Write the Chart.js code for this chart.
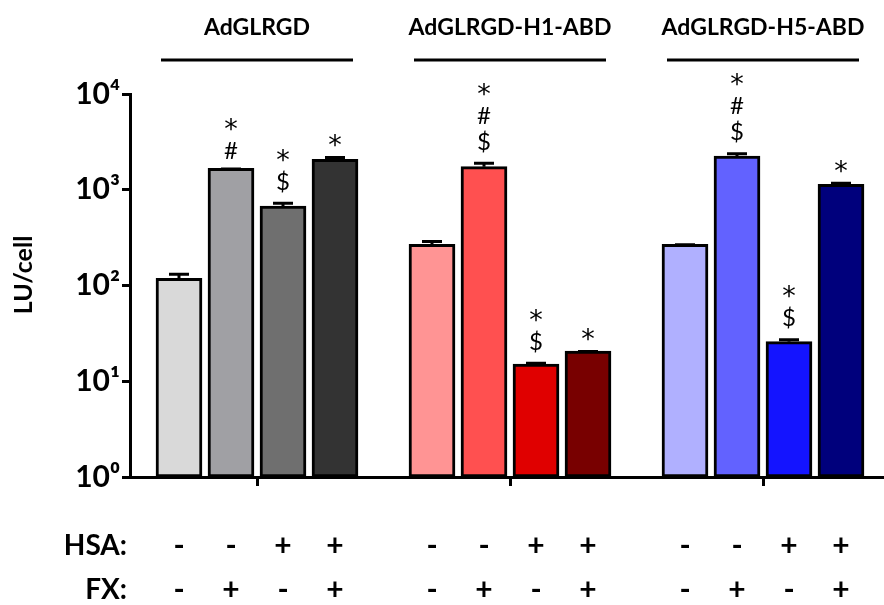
<!DOCTYPE html>
<html><head><meta charset="utf-8">
<script src="https://cdn.jsdelivr.net/npm/chart.js@4/dist/chart.umd.min.js"></script>
<style>html,body{margin:0;padding:0;background:#fff}canvas{display:block}</style>
</head><body>
<canvas id="c" width="884" height="605"></canvas>
<script>
const groups = ['AdGLRGD', 'AdGLRGD-H1-ABD', 'AdGLRGD-H5-ABD'];
const hsaRow = ['-', '-', '+', '+'];
const fxRow = ['-', '+', '-', '+'];
const values = [119, 1675, 676, 2080, 269, 1741, 15.1, 20.7, 269, 2250, 25.9, 1140];
const errors = [17, 30, 74, 170, 30, 222, 0.9, 0.5, 7, 210, 2.2, 73];
const marks = [[], ['*', '#'], ['*', '$'], ['*'], [], ['*', '#', '$'], ['*', '$'], ['*'], [], ['*', '#', '$'], ['*', '$'], ['*']];
const colors = ['#d9d9d9', '#a0a0a4', '#6f6f6f', '#333333', '#ff9494', '#ff5050', '#e00000', '#780000', '#b0b0ff', '#6262ff', '#1414ff', '#00007c'];
const yTicks = [1, 10, 100, 1000, 10000];
const yTitle = 'LU/cell';

const FONT = 'Lato, "DejaVu Sans", sans-serif';
const SUP = ['\u2070', '\u00B9', '\u00B2', '\u00B3', '\u2074'];
const GROUP_STEP = 253 / 52;
const pos = i => Math.floor(i / 4) * GROUP_STEP + (i % 4);

const overlay = {
  id: 'overlay',
  afterDraw(chart) {
    const ctx = chart.ctx, xs = chart.scales.x, ys = chart.scales.y;
    ctx.save();
    ctx.fillStyle = '#000'; ctx.strokeStyle = '#000';
    // error bars
    ctx.lineWidth = 3; ctx.lineCap = 'butt';
    values.forEach((v, i) => {
      const x = xs.getPixelForValue(pos(i));
      const y0 = ys.getPixelForValue(v), y1 = ys.getPixelForValue(v + errors[i]);
      ctx.beginPath(); ctx.moveTo(x, y0); ctx.lineTo(x, y1 + 1.5);
      ctx.moveTo(x - 10, y1 + 1.5); ctx.lineTo(x + 10, y1 + 1.5); ctx.stroke();
      // significance marks
      ctx.textAlign = 'center'; ctx.textBaseline = 'alphabetic';
      let center = null;
      for (let j = marks[i].length - 1; j >= 0; j--) {
        const ch = marks[i][j];
        ctx.font = ch === '*' ? '27px "DejaVu Sans", sans-serif' : '24px ' + FONT;
        const m = ctx.measureText(ch);
        const a = m.actualBoundingBoxAscent, d = m.actualBoundingBoxDescent;
        if (center === null) center = y1 - 9 - (a + d) / 2; else center -= 26;
        ctx.fillText(ch, x, center + (a - d) / 2);
      }
    });
    // group labels and lines
    ctx.font = 'bold 23px ' + FONT; ctx.textAlign = 'center'; ctx.textBaseline = 'middle';
    groups.forEach((g, k) => {
      const cx = xs.getPixelForValue(k * GROUP_STEP + 1.5);
      ctx.fillText(g, cx, 28);
      ctx.beginPath(); ctx.moveTo(cx - 96, 60); ctx.lineTo(cx + 96, 60); ctx.stroke();
    });
    // y title
    ctx.save(); ctx.translate(24, 275); ctx.rotate(-Math.PI / 2);
    ctx.font = 'bold 25px ' + FONT; ctx.fillText(yTitle, 0, 0); ctx.restore();
    // table
    ctx.font = 'bold 28px ' + FONT; ctx.textAlign = 'right';
    ctx.fillText('HSA:', 127, 546); ctx.fillText('FX:', 127, 590);
    ctx.textAlign = 'center'; ctx.font = 'bold 30px ' + FONT;
    values.forEach((v, i) => {
      const x = xs.getPixelForValue(pos(i));
      ctx.fillText(hsaRow[i % 4], x, 546);
      ctx.fillText(fxRow[i % 4], x, 590);
    });
    ctx.restore();
  }
};

new Chart(document.getElementById('c'), {
  type: 'bar',
  data: {
    datasets: [{
      data: values.map((v, i) => ({ x: pos(i), y: v })),
      backgroundColor: colors,
      borderColor: '#000',
      borderWidth: 3,
      borderSkipped: false,
      barThickness: 46
    }]
  },
  options: {
    responsive: false,
    devicePixelRatio: 1,
    animation: false,
    layout: { padding: { top: 94, left: 0, right: 0, bottom: 0 } },
    plugins: { legend: { display: false }, tooltip: { enabled: false } },
    scales: {
      x: {
        type: 'linear', min: -49 / 52, max: 705 / 52, offset: false,
        afterBuildTicks: s => { s.ticks = groups.map((g, k) => ({ value: k * GROUP_STEP + 1.5 })); },
        ticks: { display: false },
        grid: { offset: false, drawOnChartArea: false, drawTicks: true, tickLength: 9, tickWidth: 3, tickColor: '#000' },
        border: { display: true, width: 3, color: '#000' },
        afterFit: s => { s.height = 128; }
      },
      y: {
        type: 'logarithmic', min: 1, max: 10000,
        afterBuildTicks: s => { s.ticks = yTicks.map(v => ({ value: v })); },
        ticks: {
          callback: v => '10' + SUP[Math.round(Math.log10(v))],
          font: { family: FONT, weight: 'bold', size: 30 }, color: '#000', padding: 2
        },
        grid: { drawOnChartArea: false, drawTicks: true, tickLength: 8, tickWidth: 3, tickColor: '#000' },
        border: { display: true, width: 3, color: '#000' },
        afterFit: s => { s.width = 130; }
      }
    }
  },
  plugins: [overlay]
});
</script>
</body></html>
